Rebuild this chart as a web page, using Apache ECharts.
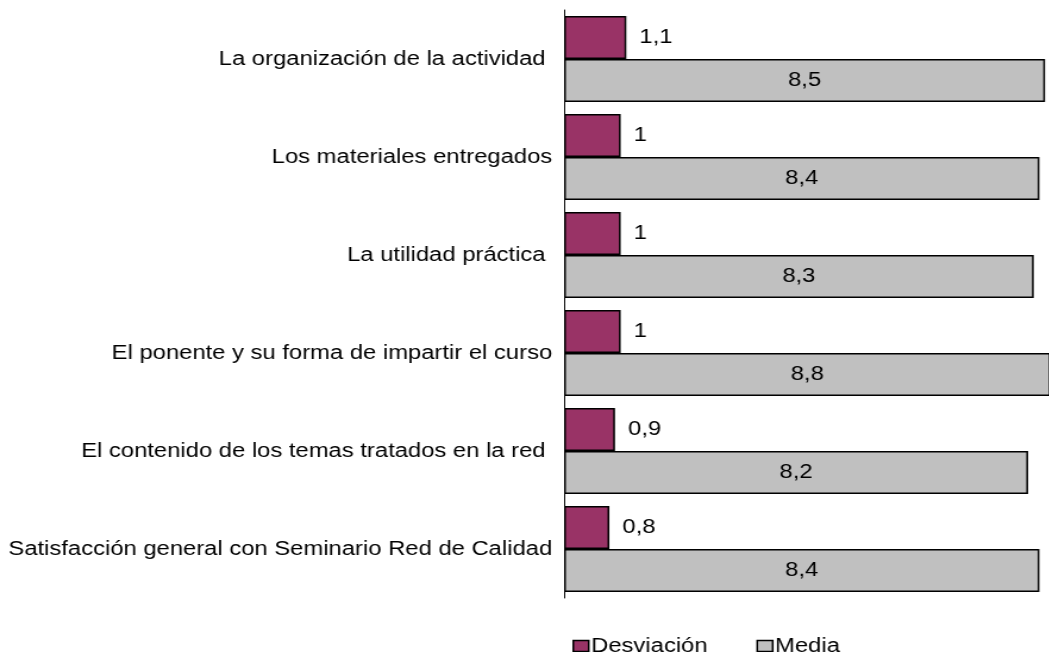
<!DOCTYPE html>
<html>
<head>
<meta charset="utf-8">
<script src="https://cdn.jsdelivr.net/npm/echarts@6/dist/echarts.min.js"></script>
<style>
  html, body { margin: 0; padding: 0; background: #fff; overflow: hidden; }
  /* the reference picture is stretched sideways, so the chart is drawn narrower and widened */
  #chart { width: 882px; height: 652px; transform: scaleX(1.19); transform-origin: 0 0; }
</style>
</head>
<body>
<div id="chart"></div>
<script>
var categories = [
  'La organización de la actividad ',
  'Los materiales entregados',
  'La utilidad práctica ',
  'El ponente y su forma de impartir el curso',
  'El contenido de los temas tratados en la red ',
  'Satisfacción general con Seminario Red de Calidad'
]
var desviacion = [1.1, 1, 1, 1, 0.9, 0.8]
var media = [8.5, 8.4, 8.3, 8.8, 8.2, 8.4]

var font = 'Liberation Sans, Arial, sans-serif'
function fmt(p) {
  return String(p.value).replace('.', ',')
}

var myChart = echarts.init(document.getElementById('chart'))
var option = {
  animation: false,
  textStyle: { fontFamily: font },
  grid: { left: 474, right: 0, top: 10, height: 588 },
  legend: {
    data: ['Desviación', 'Media'],
    left: 476,
    top: 631,
    icon: 'rect',
    itemWidth: 13,
    itemHeight: 11,
    itemGap: 41,
    textStyle: { color: '#000', fontSize: 20, fontFamily: font, padding: [0, 0, 0, -3] },
    itemStyle: { borderColor: '#000', borderWidth: 1.5 }
  },
  xAxis: {
    type: 'value',
    min: 0,
    max: 8.58,
    show: false
  },
  yAxis: {
    type: 'category',
    inverse: true,
    data: categories,
    axisLine: { show: true, lineStyle: { color: '#000', width: 1 } },
    axisTick: { show: false },
    axisLabel: { color: '#000', fontSize: 20, fontFamily: font, margin: 10 }
  },
  series: [
    {
      name: 'Desviación',
      type: 'bar',
      data: desviacion,
      barGap: '0%',
      barCategoryGap: '12%',
      itemStyle: { color: '#993366', borderColor: '#000', borderWidth: 1.5 },
      label: { show: true, position: 'right', distance: 11, color: '#000', fontSize: 20, fontFamily: font, formatter: fmt }
    },
    {
      name: 'Media',
      type: 'bar',
      data: media,
      barGap: '0%',
      barCategoryGap: '12%',
      itemStyle: { color: '#C0C0C0', borderColor: '#000', borderWidth: 1.5 },
      label: { show: true, position: 'inside', color: '#000', fontSize: 20, fontFamily: font, formatter: fmt }
    }
  ]
}
myChart.setOption(option)
</script>
</body>
</html>
